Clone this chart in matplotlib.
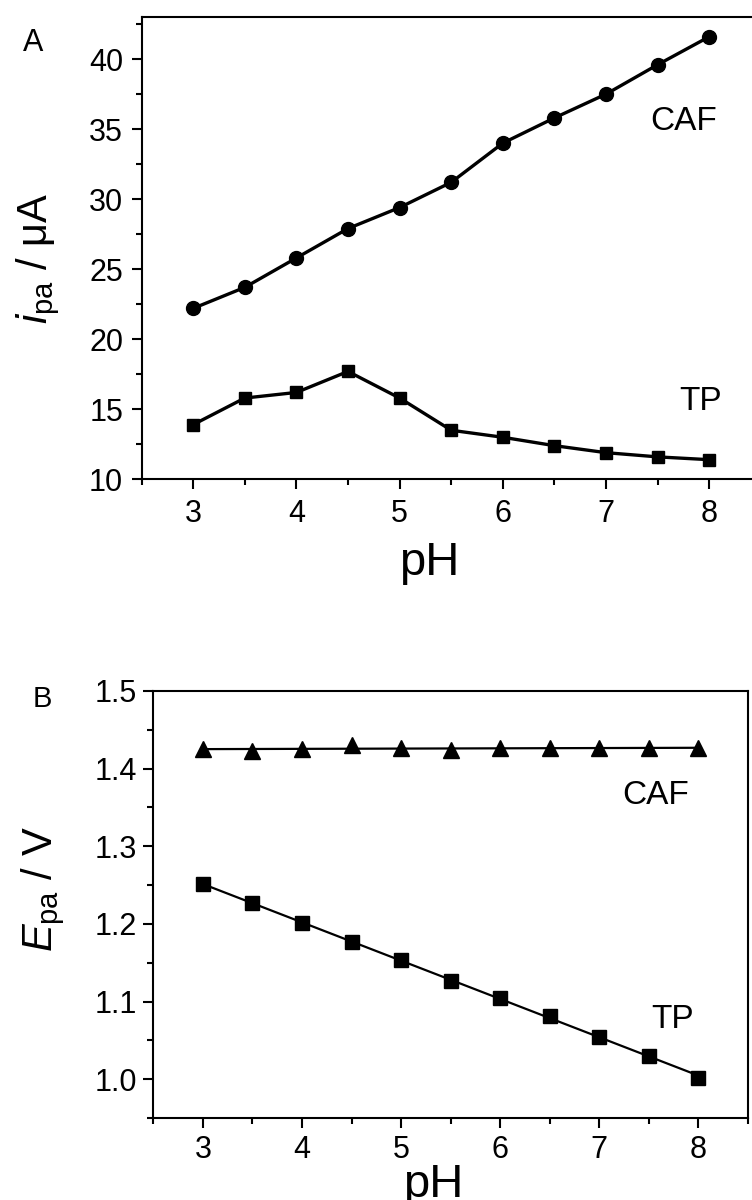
import numpy as np
import matplotlib
matplotlib.use("Agg")
import matplotlib.pyplot as plt
from matplotlib.ticker import MultipleLocator, FormatStrFormatter

plt.rcParams['font.family'] = ['Liberation Sans', 'DejaVu Sans']
plt.rcParams['mathtext.fontset'] = 'custom'
plt.rcParams['mathtext.rm'] = 'Liberation Sans'
plt.rcParams['mathtext.it'] = 'Liberation Sans:italic'

# ---- data ----
ph = [3, 3.5, 4, 4.5, 5, 5.5, 6, 6.5, 7, 7.5, 8]
ipa_caf = [22.2, 23.7, 25.8, 27.9, 29.4, 31.2, 34.0, 35.8, 37.5, 39.6, 41.6]
ipa_tp = [13.9, 15.8, 16.2, 17.7, 15.8, 13.5, 13.0, 12.4, 11.9, 11.6, 11.4]
epa_caf = [1.425, 1.423, 1.425, 1.430, 1.426, 1.424, 1.427, 1.427, 1.426, 1.427, 1.426]
epa_tp = [1.251, 1.227, 1.201, 1.177, 1.153, 1.127, 1.105, 1.081, 1.054, 1.030, 1.002]
xticks = [3, 4, 5, 6, 7, 8]

W, H = 752, 1200
fig = plt.figure(figsize=(W / 100, H / 100), dpi=100)


def style(ax, tick_fs, xpad, ypad):
    for s in ['top', 'right', 'left', 'bottom']:
        ax.spines[s].set_linewidth(1.5)
    ax.tick_params(which='major', direction='out', length=7.2, width=1.5,
                   labelsize=tick_fs, top=False, right=False)
    ax.tick_params(which='minor', direction='out', length=4, width=1.5,
                   top=False, right=False)
    ax.tick_params(axis='x', which='major', pad=xpad)
    ax.tick_params(axis='y', which='major', pad=ypad)
    ax.xaxis.set_minor_locator(MultipleLocator(0.5))
    ax.set_xticks(xticks)
    ax.set_xlim(2.5, 8.5)


# ---- Panel A ----
a_l, a_r, a_t, a_b = 141.5, 761, 17, 479.3
axA = fig.add_axes([a_l / W, 1 - a_b / H, (a_r - a_l) / W, (a_b - a_t) / H])
axA.plot(ph, ipa_caf, '-o', color='black', lw=2.4, ms=10)
axA.plot(ph, ipa_tp, '-s', color='black', lw=2.4, ms=8.8)
style(axA, 22, 7, 6)
axA.set_ylim(10, 43)
axA.yaxis.set_major_locator(MultipleLocator(5))
axA.yaxis.set_minor_locator(MultipleLocator(2.5))
axA.set_xlabel('pH', fontsize=34)
axA.xaxis.set_label_coords((429 - a_l) / (a_r - a_l), (a_b - 575) / (a_b - a_t))
axA.xaxis.label.set_verticalalignment('baseline')
axA.set_ylabel(r'$i_{\mathrm{pa}}$ / μA', fontsize=30)
axA.yaxis.set_label_coords((62 - a_l) / (a_r - a_l), (a_b - 258) / (a_b - a_t))
fig.text(33 / W, 1 - 43 / H, 'A', fontsize=22, ha='center', va='center')
fig.text(684 / W, 1 - 121 / H, 'CAF', fontsize=24, ha='center', va='center')
fig.text(701 / W, 1 - 401 / H, 'TP', fontsize=24, ha='center', va='center')

# ---- Panel B ----
b_l, b_r, b_t, b_b = 153.3, 748, 691, 1118
axB = fig.add_axes([b_l / W, 1 - b_b / H, (b_r - b_l) / W, (b_b - b_t) / H])
xs = np.array(ph)
for yv, mk, ms in [(epa_caf, '^', 11.5), (epa_tp, 's', 10)]:
    coef = np.polyfit(xs, yv, 1)
    axB.plot(xs, np.polyval(coef, xs), '-', color='black', lw=1.6)
    axB.plot(xs, yv, mk, color='black', ms=ms, ls='none')
style(axB, 22, 5, 4.3)
axB.set_ylim(0.95, 1.5)
axB.yaxis.set_major_locator(MultipleLocator(0.1))
axB.yaxis.set_minor_locator(MultipleLocator(0.05))
axB.yaxis.set_major_formatter(FormatStrFormatter('%.1f'))
axB.set_xlabel('pH', fontsize=34)
axB.xaxis.set_label_coords((433 - b_l) / (b_r - b_l), (b_b - 1197) / (b_b - b_t))
axB.xaxis.label.set_verticalalignment('baseline')
axB.set_ylabel(r'$E_{\mathrm{pa}}$ / V', fontsize=30)
axB.yaxis.set_label_coords((67 - b_l) / (b_r - b_l), (b_b - 889) / (b_b - b_t))
fig.text(42 / W, 1 - 699 / H, 'B', fontsize=21, ha='center', va='center')
fig.text(656 / W, 1 - 795 / H, 'CAF', fontsize=24, ha='center', va='center')
fig.text(673 / W, 1 - 1020 / H, 'TP', fontsize=24, ha='center', va='center')

fig.savefig('out.png', dpi=100)
